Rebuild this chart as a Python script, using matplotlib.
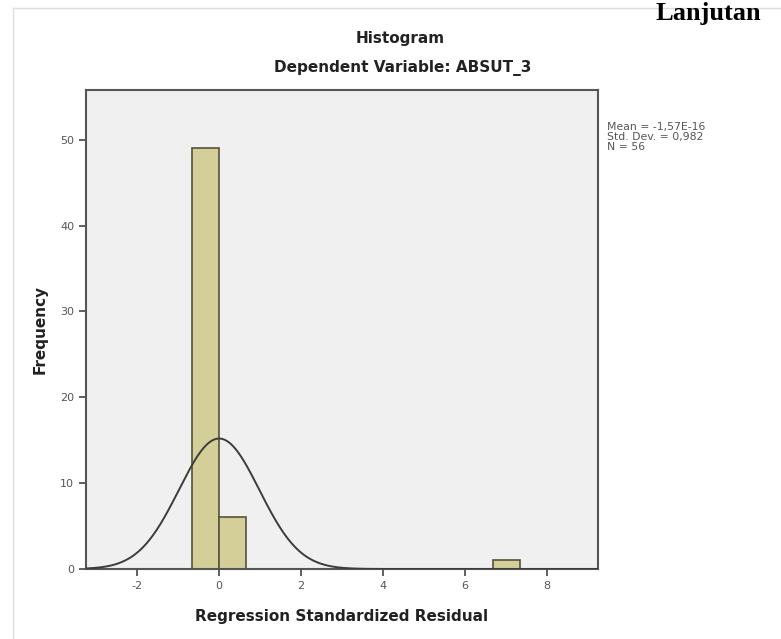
import numpy as np
import matplotlib
matplotlib.use("Agg")
import matplotlib.pyplot as plt
from matplotlib.lines import Line2D

plt.rcParams["axes.unicode_minus"] = False

# histogram bins (left edge), counts, width
bin_left = [-0.668, 0.0, 6.68]
counts = [49, 6, 1]
bin_width = 0.668

# fitted normal curve stats (from SPSS box)
mean = 0.0
std_dev = 0.982
n_obs = 56

x_ticks = [-2, 0, 2, 4, 6, 8]
y_ticks = [0, 10, 20, 30, 40, 50]

fig = plt.figure(figsize=(7.81, 6.39), dpi=100)
fig.patch.set_facecolor("white")

# faint outer frame of the pasted picture
fig.add_artist(Line2D([13 / 781, 1], [1 - 8 / 639, 1 - 8 / 639], color="#dddddd", lw=1))
fig.add_artist(Line2D([13 / 781, 13 / 781], [0, 1 - 8 / 639], color="#dddddd", lw=1))

ax = fig.add_axes([86 / 781, 1 - 569 / 639, (598 - 86) / 781, (569 - 90) / 639])
ax.set_facecolor("#f0f0f0")

ax.bar(bin_left, counts, width=bin_width, align="edge",
       color="#d4cf98", edgecolor="#55533a", linewidth=1.2, zorder=2)

xs = np.linspace(-3.25, 9.25, 400)
ys = n_obs * bin_width * np.exp(-0.5 * ((xs - mean) / std_dev) ** 2) / (std_dev * np.sqrt(2 * np.pi))
ax.plot(xs, ys, color="#3c3c3c", lw=1.4, zorder=3)

ax.set_xlim(-3.25, 9.25)
ax.set_ylim(0, 55.8)
ax.set_xticks(x_ticks)
ax.set_yticks(y_ticks)
ax.tick_params(axis="both", colors="#444444", labelcolor="#555555", labelsize=8,
               length=5, width=1.2, direction="out")

for s in ax.spines.values():
    s.set_color("#555555")
    s.set_linewidth(1.5)

ax.set_xlabel("Regression Standardized Residual", fontsize=11, fontweight="bold",
              color="#222222", labelpad=13)
ax.set_ylabel("Frequency", fontsize=11, fontweight="bold", color="#222222", labelpad=9)

fig.text(0.512, 1 - 38 / 639, "Histogram", ha="center", va="center",
         fontsize=11, fontweight="bold", color="#222222")
fig.text(0.516, 1 - 68 / 639, "Dependent Variable: ABSUT_3", ha="center", va="center",
         fontsize=11, fontweight="bold", color="#222222")

fig.text(607 / 781, 1 - 137 / 639,
         "Mean = -1,57E-16\nStd. Dev. = 0,982\nN = 56",
         ha="left", va="center", fontsize=7.8, color="#555555", linespacing=1.0)

# page heading above the chart (cut off at the top in the scan)
fig.text(655 / 781, 1 - 20 / 639, "Lanjutan", ha="left", va="baseline",
         fontsize=19, fontweight="bold", family="Liberation Serif", color="black")

fig.savefig("out.png", dpi=100)
